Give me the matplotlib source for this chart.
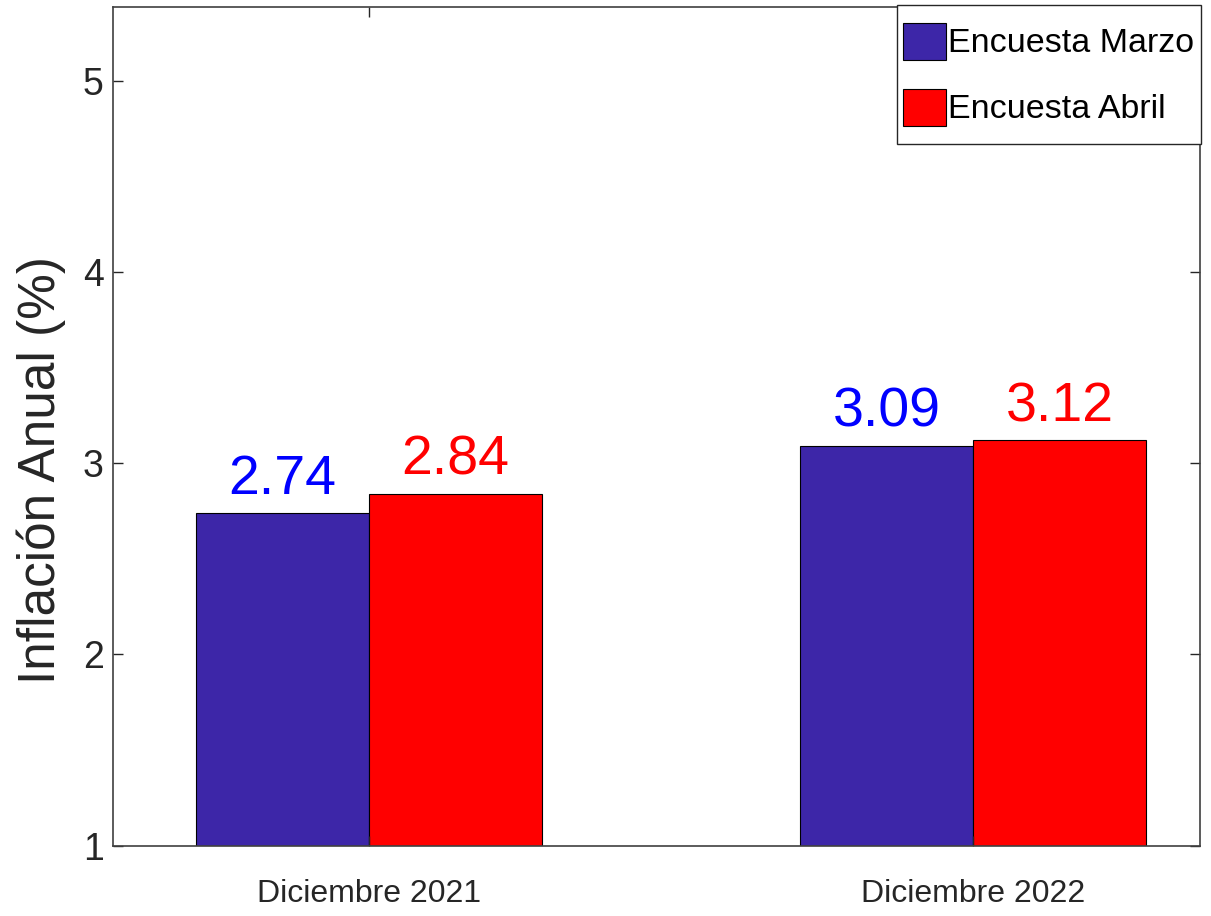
import matplotlib
matplotlib.use("Agg")
import matplotlib.pyplot as plt
from matplotlib import font_manager
from matplotlib.legend_handler import HandlerPatch, update_from_first_child
from matplotlib.patches import Rectangle
from matplotlib.container import BarContainer
import numpy as np

categories = ["Diciembre 2021", "Diciembre 2022"]
series_names = ["Encuesta Marzo", "Encuesta Abril"]
marzo = [2.74, 3.09]
abril = [2.84, 3.12]
yticks = [1, 2, 3, 4, 5]

names = {f.name for f in font_manager.fontManager.ttflist}
font = "Liberation Sans" if "Liberation Sans" in names else "DejaVu Sans"

bar_colors = ["#3D26A8", "#FF0000"]
label_colors = ["#0000FF", "#FF0000"]
axcol = "#262626"

fig = plt.figure(figsize=(12.11, 9.16), dpi=100)
ax = fig.add_axes([113.3 / 1211, (916 - 845.5) / 916, (1200 - 113.3) / 1211, (845.5 - 7) / 916])

x = np.arange(1, len(categories) + 1)
w = 0.2864
for i, (vals, name) in enumerate(zip([marzo, abril], series_names)):
    pos = x + (i - 0.5) * w
    ax.bar(pos, vals, width=w, color=bar_colors[i], edgecolor="black",
           linewidth=0.8, label=name)
    for xp, v in zip(pos, vals):
        ax.annotate(f"{v:.2f}", xy=(xp, v), xytext=(0, 19), textcoords="offset pixels",
                    ha="center", va="baseline", fontsize=40, family=font,
                    color=label_colors[i])

ax.set_xlim(0.577, 2.376)
ax.set_ylim(1, 5.385)
ax.set_xticks(x)
ax.set_xticklabels(categories, family=font, fontsize=23, color=axcol)
ax.set_yticks(yticks)
ax.set_yticklabels([str(t) for t in yticks], family=font, fontsize=27, color=axcol)
ax.tick_params(axis="both", direction="in", length=7, width=1, color=axcol,
               top=True, right=True)
ax.tick_params(axis="x", pad=24)
ax.tick_params(axis="y", pad=7)
for s in ax.spines.values():
    s.set_color("#404040")
    s.set_linewidth(1.2)

ax.set_ylabel("Inflación Anual (%)", family=font, fontsize=37, color=axcol, va="center")
ax.yaxis.set_label_coords(-0.066, 0.4475)

leg_size = 24.5


def small_patch(legend, orig_handle, xdescent, ydescent, width, height, fontsize):
    h = 1.1 * fontsize
    return Rectangle((-xdescent, -ydescent + (height - h) / 2), width, h)


leg = ax.legend(loc="upper right", bbox_to_anchor=(1200.5 / 1211, 1 - 5 / 916),
                bbox_transform=fig.transFigure, borderaxespad=0,
                prop={"family": font, "size": leg_size}, frameon=True, fancybox=False,
                framealpha=1, edgecolor=axcol, handlelength=1.24, handleheight=2.35,
                handletextpad=0.08, labelspacing=0.17, borderpad=0.18,
                handler_map={BarContainer: HandlerPatch(patch_func=small_patch,
                                                        update_func=update_from_first_child)})
leg.get_frame().set_linewidth(1.0)

fig.savefig("out.png", dpi=100)
